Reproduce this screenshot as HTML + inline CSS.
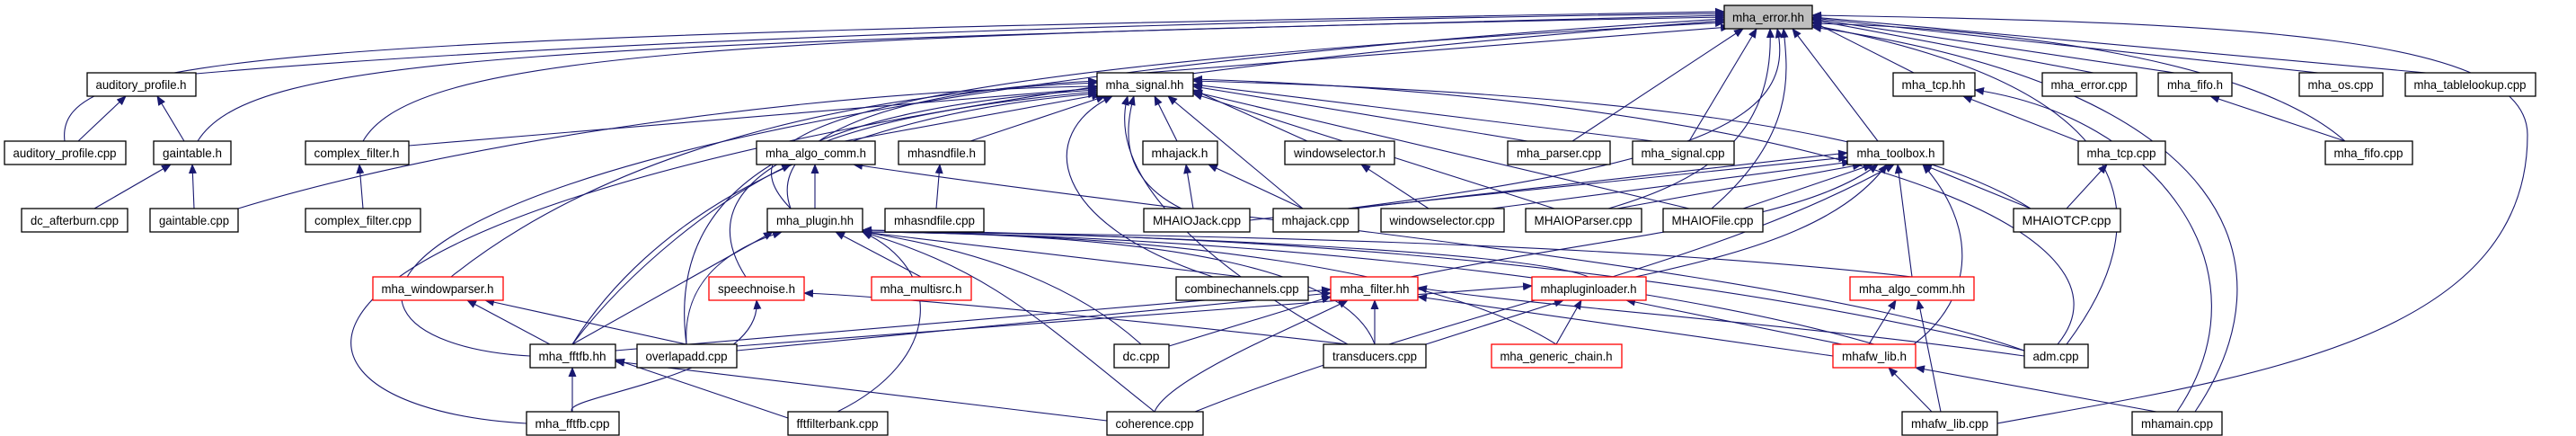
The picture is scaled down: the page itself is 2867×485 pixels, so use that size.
<!DOCTYPE html>
<html><head><meta charset="utf-8"><style>
html,body{margin:0;padding:0;background:#fff;}
svg{display:block;}
text{font-family:"Liberation Sans",sans-serif;font-size:14px;fill:#000;}
</style></head><body>
<svg width="2867" height="485" viewBox="0 0 2867 485" xmlns="http://www.w3.org/2000/svg">
<defs><marker id="a" markerWidth="11" markerHeight="9" refX="10" refY="4.5" orient="auto" markerUnits="userSpaceOnUse"><path d="M0,0 L11,4.5 L0,9 z" fill="#191970"/></marker></defs>
<g stroke="#191970" stroke-width="1.1" fill="none" marker-end="url(#a)">
<!-- to mha_error.hh -->
<path d="M72,157 C60,60 300,40 1919,13"/>
<path d="M218,82 C700,40 1500,20 1919,15"/>
<path d="M220,157 C280,60 600,50 1919,17"/>
<path d="M404,157 C460,60 800,40 1919,19"/>
<path d="M590,396 C300,380 320,120 1919,21"/>
<path d="M586,471 C220,450 220,150 1919,23"/>
<path d="M880,232 C800,150 900,80 1919,25"/>
<path d="M1274,81 L1925,30"/>
<path d="M1750,157 L1940,32"/>
<path d="M1880,157 L1955,32"/>
<path d="M1790,232 C1900,200 1975,150 1970,32"/>
<path d="M1500,232 C1900,180 2000,130 1978,32"/>
<path d="M1905,232 C2000,150 1990,80 1985,32"/>
<path d="M2090,157 L1995,32"/>
<path d="M2130,81 L2017,24"/>
<path d="M2330,81 L2017,22"/>
<path d="M2420,81 L2017,21"/>
<path d="M2580,81 L2017,20"/>
<path d="M2700,81 L2017,19"/>
<path d="M2610,157 C2500,60 2200,30 2017,26"/>
<path d="M2300,383 C2400,250 2400,100 2017,28"/>
<path d="M2443,458 C2550,300 2500,100 2017,30"/>
<path d="M2223,471 C2500,420 2813,380 2813,150 C2813,40 2500,25 2017,17"/>
<!-- to mha_signal.hh -->
<path d="M265,232 C500,160 900,100 1221,96"/>
<path d="M455,162 L1221,98"/>
<path d="M940,157 L1225,105"/>
<path d="M1080,157 L1230,107"/>
<path d="M1310,157 L1285,107"/>
<path d="M1315,232 C1250,200 1250,150 1262,107"/>
<path d="M1350,308 C1170,250 1150,150 1238,107"/>
<path d="M1455,157 L1328,100"/>
<path d="M1700,157 L1328,96"/>
<path d="M1840,157 L1328,94"/>
<path d="M1450,232 L1300,107"/>
<path d="M1730,232 L1328,104"/>
<path d="M1880,232 L1328,102"/>
<path d="M2260,232 C2100,130 1700,100 1328,90"/>
<path d="M2290,383 C2400,250 2000,110 1328,88"/>
<path d="M764,383 C740,200 900,120 1221,100"/>
<path d="M830,308 C760,200 900,130 1221,102"/>
<path d="M637,383 C720,250 900,130 1221,104"/>
<path d="M1500,383 C1350,300 1230,200 1255,107"/>
<path d="M502,308 C700,150 1000,100 1221,92"/>
<path d="M880,232 C850,150 1000,100 1221,90"/>
<!-- to mha_toolbox.h -->
<path d="M1500,232 L2056,175"/>
<path d="M1660,232 L2060,180"/>
<path d="M1800,232 L2072,183"/>
<path d="M1940,232 L2084,183"/>
<path d="M2260,232 L2140,183"/>
<path d="M1570,308 C1800,260 2000,250 2090,183"/>
<path d="M1820,308 C1950,280 2050,250 2100,183"/>
<path d="M2128,308 L2112,183"/>
<path d="M2130,383 C2200,330 2200,250 2140,183"/>
<path d="M1330,458 C1600,350 1900,300 2108,183"/>
<path d="M1391,245 L2056,170"/>
<!-- misc -->
<path d="M2313,157 L2185,107"/>
<path d="M2423,458 C2530,300 2400,130 2198,100"/>
<path d="M2610,157 L2460,107"/>
<path d="M2300,232 L2345,183"/>
<path d="M1590,232 L1515,183"/>
<path d="M1328,232 L1320,183"/>
<path d="M1450,232 L1345,183"/>
<path d="M1042,232 L1046,183"/>
<path d="M907,232 L907,183"/>
<path d="M637,383 C700,300 800,220 880,183"/>
<path d="M2253,390 C2000,300 1400,250 950,183"/>
<!-- to mha_plugin.hh -->
<path d="M1025,308 L930,258"/>
<path d="M764,383 C760,320 800,280 870,258"/>
<path d="M637,383 L860,258"/>
<path d="M932,458 C1050,400 1050,300 960,258"/>
<path d="M1382,308 L960,258"/>
<path d="M1270,383 C1200,320 1100,280 960,258"/>
<path d="M1285,458 C1150,350 1100,300 960,258"/>
<path d="M1530,383 C1500,300 1300,260 960,258"/>
<path d="M2128,308 C1800,270 1300,260 960,258"/>
<path d="M2086,383 C1800,300 1300,260 960,258"/>
<path d="M1732,383 C1600,300 1300,260 960,258"/>
<path d="M2253,390 C1800,280 1300,260 960,256"/>
<path d="M1768,308 C1700,280 1300,262 960,256"/>
<!-- speechnoise, windowparser -->
<path d="M637,458 C620,440 850,420 842,334"/>
<path d="M1500,383 C1300,360 1000,330 895,326"/>
<path d="M612,383 L520,334"/>
<path d="M764,383 L540,334"/>
<!-- mha_filter.hh -->
<path d="M820,390 L1481,326"/>
<path d="M685,390 L1481,322"/>
<path d="M1301,385 L1481,330"/>
<path d="M1285,458 C1300,420 1450,360 1500,334"/>
<path d="M1530,383 L1530,334"/>
<path d="M2253,396 C2000,360 1700,340 1578,320"/>
<path d="M2040,396 L1578,330"/>
<!-- mhapluginloader.h -->
<path d="M1732,383 L1760,334"/>
<path d="M1587,383 L1740,334"/>
<path d="M2050,383 L1810,334"/>
<path d="M820,385 L1705,318"/>
<!-- algo_comm.hh, mhafw_lib.h, fftfb -->
<path d="M2080,383 L2110,334"/>
<path d="M2160,458 L2135,334"/>
<path d="M2150,458 L2102,409"/>
<path d="M2400,458 L2132,409"/>
<path d="M637,458 L637,409"/>
<path d="M877,465 L685,400"/>
<path d="M1232,468 L685,402"/>
<!-- left cluster -->
<path d="M87,157 L140,107"/>
<path d="M205,157 L175,107"/>
<path d="M105,232 L190,183"/>
<path d="M216,232 L214,183"/>
<path d="M404,232 L400,183"/>
</g>
<g stroke-width="1.3">
<rect x="1919" y="6" width="98" height="26" fill="#bfbfbf" stroke="#000"/><text x="1968" y="24" text-anchor="middle" textLength="80" lengthAdjust="spacingAndGlyphs">mha_error.hh</text>
<g fill="#fff" stroke="#000">
<rect x="97" y="81" width="121" height="26"/><rect x="5" y="157" width="135" height="26"/><rect x="171" y="157" width="86" height="26"/><rect x="340" y="157" width="115" height="26"/>
<rect x="24" y="232" width="118" height="26"/><rect x="167" y="232" width="98" height="26"/><rect x="340" y="232" width="128" height="26"/>
<rect x="590" y="383" width="95" height="26"/><rect x="586" y="458" width="103" height="26"/>
<rect x="1221" y="81" width="107" height="26"/><rect x="842" y="157" width="132" height="26"/><rect x="1000" y="157" width="96" height="26"/><rect x="1272" y="157" width="83" height="26"/>
<rect x="854" y="232" width="106" height="26"/><rect x="985" y="232" width="110" height="26"/><rect x="1273" y="232" width="118" height="26"/>
<rect x="1309" y="308" width="147" height="26"/><rect x="709" y="383" width="111" height="26"/><rect x="1240" y="383" width="61" height="26"/>
<rect x="877" y="458" width="111" height="26"/><rect x="1232" y="458" width="107" height="26"/>
<rect x="1430" y="157" width="122" height="26"/><rect x="1678" y="157" width="114" height="26"/><rect x="1817" y="157" width="113" height="26"/><rect x="2056" y="157" width="107" height="26"/>
<rect x="1417" y="232" width="95" height="26"/><rect x="1537" y="232" width="137" height="26"/><rect x="1698" y="232" width="129" height="26"/><rect x="1851" y="232" width="111" height="26"/>
<rect x="1473" y="383" width="114" height="26"/>
<rect x="2107" y="81" width="91" height="26"/><rect x="2273" y="81" width="105" height="26"/><rect x="2402" y="81" width="82" height="26"/><rect x="2559" y="81" width="93" height="26"/><rect x="2677" y="81" width="145" height="26"/>
<rect x="2313" y="157" width="97" height="26"/><rect x="2588" y="157" width="97" height="26"/><rect x="2241" y="232" width="119" height="26"/>
<rect x="2253" y="383" width="71" height="26"/><rect x="2117" y="458" width="106" height="26"/><rect x="2373" y="458" width="100" height="26"/>
</g>
<g fill="#fff" stroke="#f00">
<rect x="415" y="308" width="145" height="26"/><rect x="789" y="308" width="106" height="26"/><rect x="970" y="308" width="111" height="26"/>
<rect x="1481" y="308" width="97" height="26"/><rect x="1705" y="308" width="127" height="26"/><rect x="2059" y="308" width="138" height="26"/>
<rect x="1660" y="383" width="145" height="26"/><rect x="2040" y="383" width="92" height="26"/>
</g>
</g>
<g text-anchor="middle" lengthAdjust="spacingAndGlyphs">
<text x="157" y="99" textLength="101" lengthAdjust="spacingAndGlyphs">auditory_profile.h</text>
<text x="72" y="175" textLength="115" lengthAdjust="spacingAndGlyphs">auditory_profile.cpp</text>
<text x="214" y="175" textLength="66" lengthAdjust="spacingAndGlyphs">gaintable.h</text>
<text x="397" y="175" textLength="95" lengthAdjust="spacingAndGlyphs">complex_filter.h</text>
<text x="83" y="250" textLength="98" lengthAdjust="spacingAndGlyphs">dc_afterburn.cpp</text>
<text x="216" y="250" textLength="78" lengthAdjust="spacingAndGlyphs">gaintable.cpp</text>
<text x="404" y="250" textLength="108" lengthAdjust="spacingAndGlyphs">complex_filter.cpp</text>
<text x="487" y="326" textLength="125" lengthAdjust="spacingAndGlyphs">mha_windowparser.h</text>
<text x="637" y="401" textLength="75" lengthAdjust="spacingAndGlyphs">mha_fftfb.hh</text>
<text x="637" y="476" textLength="83" lengthAdjust="spacingAndGlyphs">mha_fftfb.cpp</text>
<text x="1274" y="99" textLength="87" lengthAdjust="spacingAndGlyphs">mha_signal.hh</text>
<text x="908" y="175" textLength="112" lengthAdjust="spacingAndGlyphs">mha_algo_comm.h</text>
<text x="1048" y="175" textLength="76" lengthAdjust="spacingAndGlyphs">mhasndfile.h</text>
<text x="1313" y="175" textLength="63" lengthAdjust="spacingAndGlyphs">mhajack.h</text>
<text x="907" y="250" textLength="86" lengthAdjust="spacingAndGlyphs">mha_plugin.hh</text>
<text x="1040" y="250" textLength="90" lengthAdjust="spacingAndGlyphs">mhasndfile.cpp</text>
<text x="1332" y="250" textLength="98" lengthAdjust="spacingAndGlyphs">MHAIOJack.cpp</text>
<text x="842" y="326" textLength="86" lengthAdjust="spacingAndGlyphs">speechnoise.h</text>
<text x="1025" y="326" textLength="91" lengthAdjust="spacingAndGlyphs">mha_multisrc.h</text>
<text x="1382" y="326" textLength="127" lengthAdjust="spacingAndGlyphs">combinechannels.cpp</text>
<text x="764" y="401" textLength="91" lengthAdjust="spacingAndGlyphs">overlapadd.cpp</text>
<text x="1270" y="401" textLength="41" lengthAdjust="spacingAndGlyphs">dc.cpp</text>
<text x="932" y="476" textLength="91" lengthAdjust="spacingAndGlyphs">fftfilterbank.cpp</text>
<text x="1285" y="476" textLength="87" lengthAdjust="spacingAndGlyphs">coherence.cpp</text>
<text x="1491" y="175" textLength="102" lengthAdjust="spacingAndGlyphs">windowselector.h</text>
<text x="1735" y="175" textLength="94" lengthAdjust="spacingAndGlyphs">mha_parser.cpp</text>
<text x="1873" y="175" textLength="93" lengthAdjust="spacingAndGlyphs">mha_signal.cpp</text>
<text x="2110" y="175" textLength="87" lengthAdjust="spacingAndGlyphs">mha_toolbox.h</text>
<text x="1464" y="250" textLength="75" lengthAdjust="spacingAndGlyphs">mhajack.cpp</text>
<text x="1605" y="250" textLength="117" lengthAdjust="spacingAndGlyphs">windowselector.cpp</text>
<text x="1762" y="250" textLength="109" lengthAdjust="spacingAndGlyphs">MHAIOParser.cpp</text>
<text x="1906" y="250" textLength="91" lengthAdjust="spacingAndGlyphs">MHAIOFile.cpp</text>
<text x="1530" y="326" textLength="77" lengthAdjust="spacingAndGlyphs">mha_filter.hh</text>
<text x="1768" y="326" textLength="107" lengthAdjust="spacingAndGlyphs">mhapluginloader.h</text>
<text x="2128" y="326" textLength="118" lengthAdjust="spacingAndGlyphs">mha_algo_comm.hh</text>
<text x="1530" y="401" textLength="94" lengthAdjust="spacingAndGlyphs">transducers.cpp</text>
<text x="1732" y="401" textLength="125" lengthAdjust="spacingAndGlyphs">mha_generic_chain.h</text>
<text x="2086" y="401" textLength="72" lengthAdjust="spacingAndGlyphs">mhafw_lib.h</text>
<text x="2152" y="99" textLength="71" lengthAdjust="spacingAndGlyphs">mha_tcp.hh</text>
<text x="2325" y="99" textLength="85" lengthAdjust="spacingAndGlyphs">mha_error.cpp</text>
<text x="2443" y="99" textLength="62" lengthAdjust="spacingAndGlyphs">mha_fifo.h</text>
<text x="2605" y="99" textLength="73" lengthAdjust="spacingAndGlyphs">mha_os.cpp</text>
<text x="2749" y="99" textLength="125" lengthAdjust="spacingAndGlyphs">mha_tablelookup.cpp</text>
<text x="2361" y="175" textLength="77" lengthAdjust="spacingAndGlyphs">mha_tcp.cpp</text>
<text x="2636" y="175" textLength="77" lengthAdjust="spacingAndGlyphs">mha_fifo.cpp</text>
<text x="2300" y="250" textLength="99" lengthAdjust="spacingAndGlyphs">MHAIOTCP.cpp</text>
<text x="2288" y="401" textLength="51" lengthAdjust="spacingAndGlyphs">adm.cpp</text>
<text x="2170" y="476" textLength="86" lengthAdjust="spacingAndGlyphs">mhafw_lib.cpp</text>
<text x="2423" y="476" textLength="80" lengthAdjust="spacingAndGlyphs">mhamain.cpp</text>
</g>
</svg>
</body></html>
